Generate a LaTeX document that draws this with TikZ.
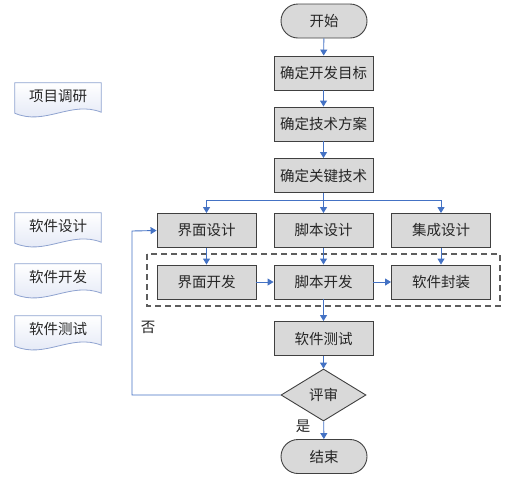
\documentclass[tikz,border=0pt]{standalone}
\usepackage{fontspec}
\setmainfont{Noto Sans CJK SC}
\usetikzlibrary{shapes.geometric,shapes.misc,arrows.meta,calc}
\definecolor{arrowblue}{RGB}{68,114,196}
\definecolor{boxfill}{RGB}{217,217,217}
\definecolor{boxline}{RGB}{64,64,64}
\definecolor{docline}{RGB}{143,163,208}
\definecolor{docfill}{RGB}{222,228,244}
\tikzset{
  base/.style={font=\fontsize{14.5}{16}\selectfont, text=black!85},
  procbox/.style={base, draw=boxline, line width=0.9pt, fill=boxfill, minimum width=99pt, minimum height=34pt, inner sep=0pt},
  termbox/.style={base, draw=boxline, line width=0.9pt, fill=boxfill, rounded rectangle, minimum width=86pt, minimum height=34pt, inner sep=0pt},
  decbox/.style={base, draw=boxline, line width=0.9pt, fill=boxfill, diamond, aspect=1.65, minimum width=85pt, minimum height=52pt, inner sep=0pt},
  docnode/.style={base, minimum width=86pt, minimum height=26pt, inner sep=0pt},
  docshape/.style={draw=docline, line width=0.8pt, top color=white, bottom color=docfill},
  flow/.style={draw=arrowblue, line width=0.9pt, -{Triangle[length=6pt,width=7pt]}},
  groupbox/.style={draw=boxline!85, line width=1.1pt, dash pattern=on 6pt off 4pt},
  lbl/.style={base, inner sep=0pt}
}
\newcommand{\mydoc}[4]{%
  \node[docnode] (#1) at (#2,#3) {};
  \path[docshape] (#1.north west) -- (#1.north east) -- ($(#1.south east)+(0,3)$)
     .. controls +(-30,-12) and +(30,13) .. ($(#1.south west)+(0,4)$) -- cycle;
  \node[lbl] at (#1.center) {#4};
}
\begin{document}
\begin{tikzpicture}[x=1pt,y=-1pt]
\useasboundingbox (0,0) rectangle (521,483);
% left documents
\mydoc{d1}{58}{96}{项目调研}
\mydoc{d2}{58}{226}{软件设计}
\mydoc{d3}{58}{277}{软件开发}
\mydoc{d4}{58}{329}{软件测试}
% dashed group
\draw[groupbox] (147,254) rectangle (500,306);
% main flow
\node[termbox] (start) at (324,21) {开始};
\node[procbox] (goal) at (323.5,73) {确定开发目标};
\node[procbox] (plan) at (323.5,124) {确定技术方案};
\node[procbox] (key) at (323.5,175.5) {确定关键技术};
\node[procbox] (uid) at (206.5,230.5) {界面设计};
\node[procbox] (sd) at (323.5,230.5) {脚本设计};
\node[procbox] (id) at (441,230.5) {集成设计};
\node[procbox] (udev) at (206.5,282) {界面开发};
\node[procbox] (sdev) at (323.5,282) {脚本开发};
\node[procbox] (pack) at (441,282) {软件封装};
\node[procbox] (test) at (323.5,338.5) {软件测试};
\node[decbox] (rev) at (323.5,395) {评审};
\node[termbox] (end) at (324,456.5) {结束};
\coordinate (split) at (323.5,200);
\coordinate (loopa) at (132,395);
\coordinate (loopb) at (132,231);
% connectors
\draw[flow] (start) -- (goal);
\draw[flow] (goal) -- (plan);
\draw[flow] (plan) -- (key);
\draw[flow] (key) -- (sd);
\draw[flow] (split) -| (uid);
\draw[flow] (split) -| (id);
\draw[flow] (uid) -- (udev);
\draw[flow] (sd) -- (sdev);
\draw[flow] (id) -- (pack);
\draw[flow] (udev) -- (sdev);
\draw[flow] (sdev) -- (pack);
\draw[flow] (sdev) -- (test);
\draw[flow] (test) -- (rev);
\draw[flow] (rev) -- (end);
\draw[flow] (rev.west) -- (loopa) -- (loopb) -- (uid.west);
\node[lbl] (no) at (148,327) {否};
\node[lbl] (yes) at (303,426) {是};
\end{tikzpicture}
\end{document}
